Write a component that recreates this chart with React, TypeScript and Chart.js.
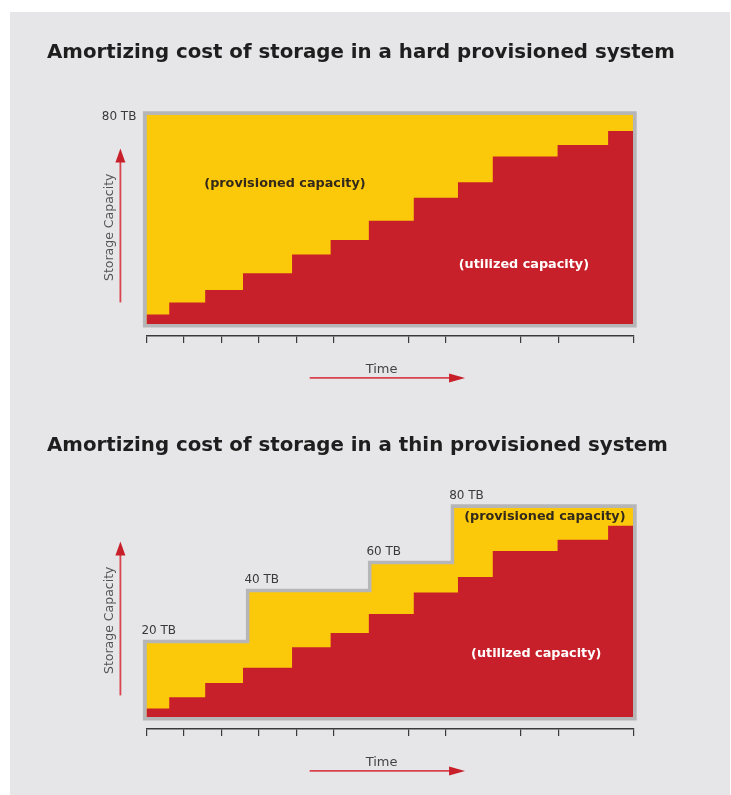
import React, { useEffect, useRef } from 'react';
import { Chart, registerables } from 'chart.js';

Chart.register(...registerables);

// ---- data ----
const stepStarts = [0, 0.61, 1.57, 2.58, 3.89, 4.92, 5.94, 7.14, 8.32, 9.25, 10.98, 12.33];
const timeEnd = 13;
const timeTicks = [0, 1, 2, 3, 4, 5, 7, 8, 10, 11, 13];
const utilizedHard = [3.7, 8.3, 13.0, 19.4, 26.6, 32.1, 39.5, 48.3, 54.2, 64.0, 68.4, 73.8];
const utilizedThin = [3.3, 7.6, 13.0, 18.9, 26.7, 32.1, 39.4, 47.6, 53.5, 63.5, 67.8, 73.1];
const hardStarts = [0];
const hardLevels = [80];
const hardLabels = ['80 TB'];
const thinStarts = [0, 2.75, 6.01, 8.22];
const thinLevels = [28.2, 47.7, 58.4, 80];
const thinLabels = ['20 TB', '40 TB', '60 TB', '80 TB'];
const yMin = -4.5;
const yMax = 80;

const RED = '#c8202a';
const YELLOW = '#fcc90a';
const GRAY = '#b6b6b8';
const PANEL = '#e6e6e8';

type Pt = { x: number; y: number };

function stepSeries(starts: number[], levels: number[]): Pt[] {
  const pts = starts.map((x, i) => ({ x, y: levels[i] }));
  pts.push({ x: timeEnd, y: levels[levels.length - 1] });
  return pts;
}

function outlineSeries(starts: number[], levels: number[]): Pt[] {
  return [{ x: starts[0], y: 0 }, ...stepSeries(starts, levels), { x: timeEnd, y: 0 }, { x: starts[0], y: 0 }];
}

function arrow(ctx: CanvasRenderingContext2D, x1: number, y1: number, x2: number, y2: number, headLen: number, halfW: number) {
  const dx = x2 - x1, dy = y2 - y1;
  const len = Math.hypot(dx, dy);
  const ux = dx / len, uy = dy / len;
  const bx = x2 - ux * headLen, by = y2 - uy * headLen;
  ctx.strokeStyle = '#d9434d';
  ctx.lineWidth = 1.8;
  ctx.beginPath();
  ctx.moveTo(x1, y1);
  ctx.lineTo(bx + ux * 2, by + uy * 2);
  ctx.stroke();
  ctx.fillStyle = RED;
  ctx.beginPath();
  ctx.moveTo(x2, y2);
  ctx.lineTo(bx - uy * halfW, by + ux * halfW);
  ctx.lineTo(bx + uy * halfW, by - ux * halfW);
  ctx.closePath();
  ctx.fill();
}

const annotPlugin = {
  id: 'annot',
  afterDraw(chart: any, _args: any, opts: any) {
    const { ctx, chartArea: a, scales } = chart;
    const xs = scales.x, ys = scales.y;
    ctx.save();
    // title
    ctx.font = 'bold 19.8px "DejaVu Sans"';
    ctx.fillStyle = '#1e1e1e';
    ctx.textAlign = 'left';
    ctx.textBaseline = 'alphabetic';
    ctx.fillText(opts.title, 37, a.top - 57);

    // level labels
    ctx.font = '12px "DejaVu Sans"';
    ctx.fillStyle = '#3a3a3a';
    opts.levels.forEach((l: any) => {
      if (l.axis) {
        ctx.textAlign = 'right';
        ctx.textBaseline = 'middle';
        ctx.fillText(l.text, a.left - 10, ys.getPixelForValue(l.y) + 2);
      } else {
        ctx.textAlign = 'left';
        ctx.textBaseline = 'alphabetic';
        ctx.fillText(l.text, xs.getPixelForValue(l.x) - 5, ys.getPixelForValue(l.y) - 9);
      }
    });

    // area labels
    ctx.font = 'bold 12.8px "DejaVu Sans"';
    ctx.textAlign = 'center';
    ctx.textBaseline = 'middle';
    opts.areas.forEach((l: any) => {
      ctx.fillStyle = l.color;
      ctx.fillText(l.text, xs.getPixelForValue(l.x), ys.getPixelForValue(l.y));
    });

    // y label + arrow
    ctx.save();
    ctx.translate(a.left - 36.8, ys.getPixelForValue(37));
    ctx.rotate(-Math.PI / 2);
    ctx.font = '12.5px "DejaVu Sans"';
    ctx.fillStyle = '#555';
    ctx.fillText('Storage Capacity', 0, 0);
    ctx.restore();
    arrow(ctx, a.left - 26, ys.getPixelForValue(8.3), a.left - 26, ys.getPixelForValue(67.1), 14, 5);

    // x label + arrow
    ctx.font = '13px "DejaVu Sans"';
    ctx.fillStyle = '#444';
    ctx.textAlign = 'center';
    ctx.textBaseline = 'alphabetic';
    ctx.fillText('Time', xs.getPixelForValue(6.28), a.bottom + 37);
    arrow(ctx, xs.getPixelForValue(4.36), a.bottom + 42, xs.getPixelForValue(8.51), a.bottom + 42, 16, 4.5);
    ctx.restore();
  },
};

type Props = {
  height: number;
  padTop: number;
  utilized: number[];
  starts: number[];
  levels: number[];
  annot: any;
};

function StepChart({ height, padTop, utilized, starts, levels, annot }: Props) {
  const ref = useRef<HTMLCanvasElement>(null);
  useEffect(() => {
    if (!ref.current) return;
    const chart = new Chart(ref.current, {
      type: 'line',
      data: {
        datasets: [
          {
            data: stepSeries(stepStarts, utilized),
            stepped: true,
            fill: 'origin',
            backgroundColor: RED,
            borderColor: 'rgba(0,0,0,0)',
            borderWidth: 0,
            pointRadius: 0,
          },
          {
            data: stepSeries(starts, levels),
            stepped: true,
            fill: 'origin',
            backgroundColor: YELLOW,
            borderColor: 'rgba(0,0,0,0)',
            borderWidth: 0,
            pointRadius: 0,
          },
          {
            data: outlineSeries(starts, levels),
            stepped: true,
            fill: false,
            borderColor: GRAY,
            borderWidth: 7,
            pointRadius: 0,
            clip: false,
            borderCapStyle: 'square',
            borderJoinStyle: 'miter',
          },
        ],
      } as any,
      options: {
        responsive: false,
        animation: false,
        events: [],
        layout: { padding: { left: 136.4, right: 96.8, top: padTop, bottom: 59.1 } },
        plugins: {
          legend: { display: false },
          tooltip: { enabled: false },
          title: { display: false },
          annot,
        } as any,
        scales: {
          x: {
            type: 'linear',
            min: 0,
            max: timeEnd,
            afterBuildTicks: (axis: any) => {
              axis.ticks = timeTicks.map((v) => ({ value: v }));
            },
            ticks: { display: false },
            grid: { drawOnChartArea: false, drawTicks: true, tickLength: 7, color: '#3a3a3a', lineWidth: 1.2 },
            border: { display: true, color: '#3a3a3a', width: 1.5 },
          },
          y: { display: false, min: yMin, max: yMax },
        },
      },
      plugins: [annotPlugin],
    });
    return () => chart.destroy();
  }, []);
  return <canvas ref={ref} width={720} height={height} style={{ display: 'block', width: 720, height }} />;
}

export default function App() {
  const hardAnnot = {
    title: 'Amortizing cost of storage in a hard provisioned system',
    levels: hardLabels.map((t, i) => ({ text: t, x: hardStarts[i], y: hardLevels[i], axis: true })),
    areas: [
      { text: '(provisioned capacity)', x: 3.7, y: 53.8, color: '#33291a' },
      { text: '(utilized capacity)', x: 10.08, y: 22.6, color: '#ffffff' },
    ],
  };
  const thinAnnot = {
    title: 'Amortizing cost of storage in a thin provisioned system',
    levels: thinLabels.map((t, i) => ({ text: t, x: thinStarts[i], y: thinLevels[i], axis: false })),
    areas: [
      { text: '(provisioned capacity)', x: 10.64, y: 76.5, color: '#33291a' },
      { text: '(utilized capacity)', x: 10.41, y: 24.2, color: '#ffffff' },
    ],
  };
  return (
    <div style={{ position: 'fixed', left: 10, top: 12, width: 720, height: 783, background: PANEL, overflow: 'hidden' }}>
      <StepChart height={390} padTop={102.7} utilized={utilizedHard} starts={hardStarts} levels={hardLevels} annot={hardAnnot} />
      <StepChart height={393} padTop={105.7} utilized={utilizedThin} starts={thinStarts} levels={thinLevels} annot={thinAnnot} />
    </div>
  );
}
